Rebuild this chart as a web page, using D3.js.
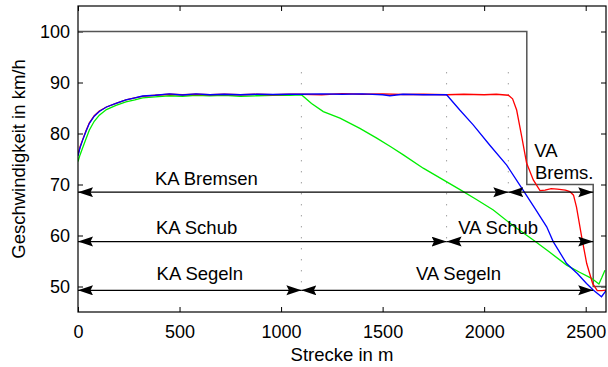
<!DOCTYPE html>
<html lang="de">
<head>
<meta charset="UTF-8" />
<title>Geschwindigkeit über Strecke</title>
<script src="https://d3js.org/d3.v7.min.js"></script>
<style>
  body { margin: 0; background: #fff; }
  svg { display: block; font-family: "Liberation Sans", Arial, Helvetica, sans-serif; }
</style>
</head>
<body>
<svg id="chart"></svg>
<script>
// speed profiles (distance in m, speed in km/h)
const blueDist = [0, 10, 23, 40, 56, 80, 105, 140, 187, 236, 280, 318, 380, 450, 515, 581, 650, 720, 800, 880, 960, 1040, 1100, 1200, 1300, 1400, 1500, 1536, 1600, 1700, 1815, 1880, 1946, 2028, 2111, 2190, 2250, 2308, 2340, 2406, 2460, 2504, 2537, 2578, 2600];
const blueSpeed = [75.6, 77.2, 78.7, 80.5, 82.0, 83.4, 84.3, 85.2, 85.9, 86.6, 87.0, 87.35, 87.5, 87.75, 87.55, 87.75, 87.6, 87.7, 87.6, 87.7, 87.65, 87.7, 87.7, 87.75, 87.7, 87.75, 87.6, 87.4, 87.7, 87.6, 87.6, 84.6, 81.7, 77.7, 73.8, 69.0, 65.3, 61.7, 58.8, 54.5, 52.5, 50.6, 49.3, 48.0, 49.2];

const redDist = [0, 10, 23, 40, 56, 80, 105, 140, 187, 236, 280, 318, 380, 450, 515, 581, 650, 720, 800, 880, 960, 1040, 1100, 1200, 1300, 1400, 1500, 1600, 1700, 1815, 1900, 2000, 2060, 2119, 2140, 2160, 2185, 2209, 2242, 2275, 2300, 2330, 2360, 2400, 2422, 2440, 2455, 2480, 2505, 2534, 2557, 2580, 2600];
const redSpeed = [75.8, 77.4, 78.8, 80.6, 82.1, 83.5, 84.4, 85.2, 85.9, 86.6, 87.0, 87.3, 87.5, 87.7, 87.6, 87.7, 87.6, 87.7, 87.6, 87.7, 87.6, 87.7, 87.7, 87.6, 87.8, 87.7, 87.75, 87.65, 87.7, 87.6, 87.7, 87.6, 87.7, 87.5, 86.8, 84.6, 79.4, 74.2, 70.9, 68.8, 68.9, 69.2, 69.1, 68.9, 68.6, 67.9, 65.5, 59.8, 54.5, 50.6, 49.2, 49.2, 49.3];

const greenDist = [0, 10, 23, 40, 56, 80, 105, 140, 187, 236, 280, 318, 380, 450, 515, 581, 650, 720, 800, 880, 960, 1040, 1100, 1150, 1208, 1290, 1388, 1471, 1540, 1602, 1700, 1799, 1881, 1960, 2045, 2140, 2242, 2320, 2406, 2470, 2529, 2565, 2580, 2595];
const greenSpeed = [74.5, 75.8, 77.2, 79.0, 80.7, 82.4, 83.6, 84.7, 85.5, 86.2, 86.6, 87.0, 87.2, 87.4, 87.3, 87.5, 87.4, 87.5, 87.3, 87.4, 87.5, 87.5, 87.6, 85.9, 84.3, 83.0, 81.0, 79.1, 77.4, 75.8, 73.2, 70.9, 69.0, 67.1, 65.0, 62.0, 59.1, 56.8, 54.2, 52.8, 51.6, 50.5, 51.8, 53.2];

// speed limit (step line)
const limitDist = [0, 2210, 2210, 2537, 2537, 2600];
const limitSpeed = [100, 100, 70, 70, 50, 50];

// phase boundaries (dotted) and phase arrows
const boundaries = [
  { at: 1100, from: 92, to: 49.25 },
  { at: 1815, from: 92, to: 58.8 },
  { at: 2119, from: 92, to: 68.5 }
];
const arrows = [
  { from: 0, to: 2119, level: 68.5 },
  { from: 2119, to: 2537, level: 68.5 },
  { from: 0, to: 1815, level: 58.8 },
  { from: 1815, to: 2537, level: 58.8 },
  { from: 0, to: 1100, level: 49.25 },
  { from: 1100, to: 2537, level: 49.25 }
];
const phaseLabels = [
  { text: "KA Bremsen", x: 379, y: 69.9 },
  { text: "KA Schub", x: 384, y: 60.3 },
  { text: "KA Segeln", x: 387, y: 51.3 },
  { text: "VA Schub", x: 1872, y: 60.3 },
  { text: "VA Segeln", x: 1664, y: 51.3 },
  { text: "VA", x: 2247, y: 75.3 },
  { text: "Brems.", x: 2250, y: 71.0 }
];

const xTicks = [0, 500, 1000, 1500, 2000, 2500];
const yTicks = [50, 60, 70, 80, 90, 100];

const W = 608, H = 367;
const margin = { top: 6, right: 2, bottom: 55, left: 78 };
const width = W - margin.left - margin.right;
const height = H - margin.top - margin.bottom;

const svg = d3.select("#chart").attr("width", W).attr("height", H);
const g = svg.append("g").attr("transform", "translate(" + margin.left + "," + margin.top + ")");

const x = d3.scaleLinear().domain([0, 2600]).range([0, width]);
const y = d3.scaleLinear().domain([45, 105]).range([height, 0]);

svg.append("defs").append("clipPath").attr("id", "plot")
  .append("rect").attr("width", width).attr("height", height);
svg.select("defs").append("marker")
  .attr("id", "head")
  .attr("markerUnits", "userSpaceOnUse")
  .attr("markerWidth", 16).attr("markerHeight", 11)
  .attr("refX", 15).attr("refY", 5)
  .attr("orient", "auto-start-reverse")
  .append("path")
  .attr("d", "M0,0 L15,5 L0,10 L2.5,5 Z")
  .attr("fill", "#000");

// axes, matlab style: ticks inside, box all round
const tickStyle = sel => {
  sel.select(".domain").remove();
  sel.selectAll("line").attr("stroke", "#000");
  sel.selectAll("text").style("font-size", "18px").attr("fill", "#000");
};
g.append("g").attr("transform", "translate(0," + height + ")")
  .call(d3.axisBottom(x).tickValues(xTicks).tickFormat(d3.format("d")).tickSizeInner(-5).tickSizeOuter(0).tickPadding(13))
  .call(tickStyle);
g.append("g")
  .call(d3.axisTop(x).tickValues(xTicks).tickFormat("").tickSizeInner(-5).tickSizeOuter(0))
  .call(tickStyle);
g.append("g")
  .call(d3.axisLeft(y).tickValues(yTicks).tickSizeInner(-5).tickSizeOuter(0).tickPadding(8))
  .call(tickStyle);
g.append("g").attr("transform", "translate(" + width + ",0)")
  .call(d3.axisRight(y).tickValues(yTicks).tickFormat("").tickSizeInner(-5).tickSizeOuter(0))
  .call(tickStyle);

const plot = g.append("g").attr("clip-path", "url(#plot)");

const line = d3.line().x(d => x(d[0])).y(d => y(d[1]));

plot.selectAll(".bound")
  .data(boundaries)
  .join("line")
  .attr("class", "bound")
  .attr("x1", d => x(d.at)).attr("x2", d => x(d.at))
  .attr("y1", d => y(d.from)).attr("y2", d => y(d.to))
  .attr("stroke", "#777")
  .attr("stroke-width", 1)
  .attr("stroke-dasharray", "1 10");

plot.append("path")
  .datum(d3.zip(limitDist, limitSpeed))
  .attr("d", line)
  .attr("fill", "none")
  .attr("stroke", "#555")
  .attr("stroke-width", 1.5);

const series = [
  { dist: greenDist, speed: greenSpeed, color: "#00ee00" },
  { dist: redDist, speed: redSpeed, color: "#ff0000" },
  { dist: blueDist, speed: blueSpeed, color: "#0000ff" }
];
plot.selectAll(".speed")
  .data(series)
  .join("path")
  .attr("class", "speed")
  .attr("d", d => line(d3.zip(d.dist, d.speed)))
  .attr("fill", "none")
  .attr("stroke", d => d.color)
  .attr("stroke-width", 1.3);

g.selectAll(".arrow")
  .data(arrows)
  .join("line")
  .attr("class", "arrow")
  .attr("x1", d => x(d.from)).attr("x2", d => x(d.to))
  .attr("y1", d => y(d.level)).attr("y2", d => y(d.level))
  .attr("stroke", "#000")
  .attr("stroke-width", 1.2)
  .attr("marker-start", "url(#head)")
  .attr("marker-end", "url(#head)");

g.selectAll(".phase")
  .data(phaseLabels)
  .join("text")
  .attr("class", "phase")
  .attr("x", d => x(d.x))
  .attr("y", d => y(d.y))
  .style("font-size", "18.5px")
  .text(d => d.text);

// box
g.append("rect")
  .attr("width", width).attr("height", height)
  .attr("fill", "none").attr("stroke", "#000").attr("stroke-width", 1.2);

// axis titles
g.append("text")
  .attr("x", width / 2)
  .attr("y", height + 49)
  .attr("text-anchor", "middle")
  .style("font-size", "18.5px")
  .text("Strecke in m");
g.append("text")
  .attr("transform", "rotate(-90)")
  .attr("x", -height / 2)
  .attr("y", -53)
  .attr("text-anchor", "middle")
  .style("font-size", "18.5px")
  .text("Geschwindigkeit in km/h");
</script>
</body>
</html>
